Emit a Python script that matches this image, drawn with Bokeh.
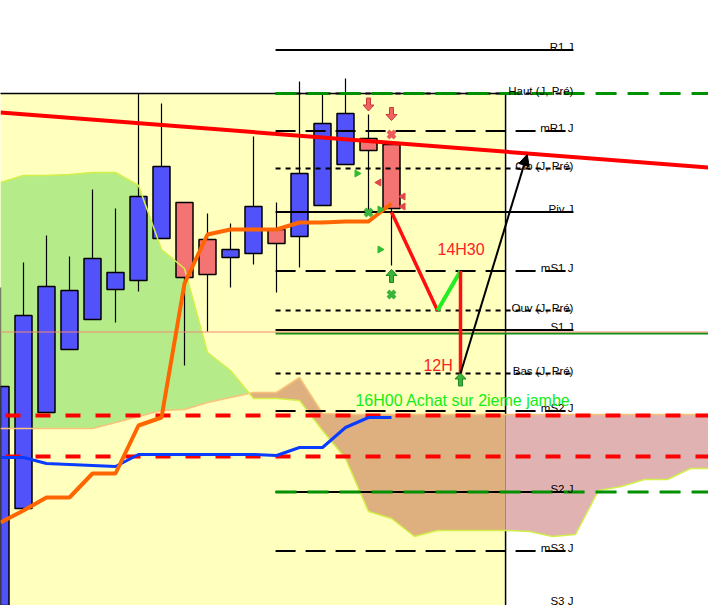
import numpy as np
from bokeh.plotting import figure
from bokeh.models import Range1d, ColumnDataSource, Arrow, NormalHead
from bokeh.embed import file_html
from bokeh.resources import INLINE
from bokeh.core.properties import value

# ---------------- data (price points, bar index = 30 min bars) ----------------
bars = list(range(18))
opens = [4176.5, 4242.5, 4290.5, 4322.0, 4337.0, 4352.0, 4356.5, 4377.5, 4395.5,
         4377.0, 4368.0, 4370.0, 4382.0, 4378.5, 4394.0, 4414.5, 4427.5, 4424.5]
highs = [4353.0, 4365.5, 4379.0, 4368.5, 4402.0, 4392.5, 4450.0, 4445.0, 4395.5,
         4390.0, 4385.0, 4428.5, 4395.5, 4456.0, 4450.0, 4457.5, 4439.5, 4424.5]
lows = [4171.5, 4242.5, 4290.5, 4322.0, 4337.0, 4335.5, 4351.0, 4377.5, 4314.0,
        4331.0, 4353.0, 4364.5, 4350.5, 4363.0, 4394.0, 4414.5, 4391.5, 4364.0]
closes = [4303.5, 4339.0, 4353.5, 4351.5, 4367.5, 4360.5, 4398.5, 4413.5, 4358.0,
          4359.5, 4372.0, 4393.5, 4375.0, 4410.0, 4435.0, 4440.0, 4421.5, 4392.5]

kijun = [4235.5, 4241.5, 4248.0, 4248.0, 4260.0, 4260.0, 4284.0, 4288.0, 4355.0,
         4379.5, 4382.0, 4382.0, 4382.0, 4385.5, 4385.5, 4386.0, 4386.0, 4395.0]
tenkan = [4268.0, 4268.0, 4265.0, 4264.5, 4264.0, 4263.5, 4269.5, 4269.5, 4269.5,
          4269.5, 4269.5, 4269.5, 4269.0, 4273.0, 4273.0, 4283.0, 4288.0, 4288.0]

cloud_bars = list(range(32))
span_a = [4405.5, 4409.0, 4409.0, 4409.5, 4410.5, 4410.5, 4404.0, 4372.0, 4362.5,
          4320.5, 4311.5, 4297.5, 4297.5, 4296.5, 4281.5, 4267.5, 4241.0, 4237.5,
          4228.5, 4231.5, 4231.5, 4231.5, 4231.5, 4231.0, 4228.5, 4229.5, 4251.5,
          4253.5, 4257.0, 4257.0, 4262.5, 4262.5]
span_b = [4282.5, 4282.5, 4282.5, 4282.5, 4282.5, 4285.5, 4288.5, 4291.5, 4292.0,
          4295.5, 4298.0, 4300.5, 4300.5, 4308.0, 4290.0, 4289.5, 4289.5, 4289.5,
          4289.5, 4289.5, 4289.5, 4289.5, 4289.5, 4289.5, 4289.5, 4289.5, 4289.5,
          4289.5, 4289.5, 4289.5, 4289.5, 4289.5]

level_names = ["R1 J", "Haut (J, Pré)", "mR1 J", "Clo (J, Pré)", "Piv J", "mS1 J",
               "Ouv (J, Pré)", "S1 J", "Bas (J, Pré)", "mS2 J", "S2 J", "mS3 J", "S3 J"]
level_values = [4471.7, 4450.0, 4431.25, 4412.5, 4390.8, 4361.25,
                4341.5, 4331.7, 4310.0, 4291.25, 4250.8, 4221.25, 4191.7]
level_kinds = ["solid", "short", "long", "short", "solid", "long",
               "short", "solid", "short", "long", "solid", "long", "solid"]

green_dashed_levels = [4450.0, 4250.8]
red_dashed_levels = [4289.0, 4268.5]
thin_level = [4330.75]
green_solid_level = [4330.0]

trend_bars = [0, 31]
trend_prices = [4440.5, 4412.8]

sell_arrow_bars = [16, 17]
sell_arrow_prices = [4444.5, 4439.75]
buy_arrow_bars = [17, 20]
buy_arrow_prices = [4358.75, 4307.0]
sell_x_bars = [17]
sell_x_prices = [4429.5]
buy_x_bars = [16, 17]
buy_x_prices = [4390.5, 4349.5]
up_tri_bars = [15.5, 16.5, 16.5]
up_tri_prices = [4410.0, 4392.0, 4372.0]
dn_tri_bars = [16.45, 17.5, 17.5]
dn_tri_prices = [4405.5, 4398.5, 4393.5]

drop_leg_bars = [17, 19]
drop_leg_prices = [4390.8, 4341.5]
rebound_leg_bars = [19, 20]
rebound_leg_prices = [4341.5, 4361.25]
fall_leg_bars = [20, 20]
fall_leg_prices = [4361.25, 4310.0]
target_bars = [20, 22.9]
target_prices = [4310.0, 4419.5]

notes = ["14H30", "12H", "16H00 Achat sur 2ieme jambe"]
note_bars = [19.0, 18.39, 15.43]
note_prices = [4372.0, 4314.0, 4296.5]
note_colors = ["#ff2222", "#ff2222", "#11ee11"]

session_start, session_end, session_top, session_bottom = -1.0, 21.96, 4450.0, 4100.0
levels_start, levels_end, ext_end = 11.96, 24.91, 31.0

# ---------------- figure ----------------
PX_X = 1.0 / 23.0   # bar units per pixel
PX_Y = 0.5          # price units per pixel
W, H = 708, 605
y_hi = 4496.5
y_lo = y_hi - H * PX_Y

p = figure(width=W, height=H, output_backend="svg", toolbar_location=None,
           x_range=Range1d(0.0, W * PX_X), y_range=Range1d(y_lo, y_hi),
           x_axis_type=None, y_axis_type=None, min_border=0)
p.grid.visible = False
p.outline_line_color = None
p.background_fill_color = "white"
p.border_fill_color = "white"

# session background
p.quad(left=[session_start], right=[session_end], top=[session_top], bottom=[session_bottom],
       fill_color="#ffffbe", line_color="black", line_width=1.5)

# cloud
cx = np.array(cloud_bars, dtype=float)
a = np.array(span_a)
b = np.array(span_b)
extra = [session_end]
d = a - b
for k in range(1, len(cx)):
    if d[k - 1] * d[k] < 0:
        t = d[k - 1] / (d[k - 1] - d[k])
        extra.append(cx[k - 1] + t)
X = np.unique(np.concatenate([cx, np.array(extra)]))
A = np.interp(X, cx, a)
B = np.interp(X, cx, b)
p.varea(x=X, y1=B, y2=np.where(A > B, A, B), fill_color="#b5ec89")
bear_top = np.where(B > A, B, A)
m_in = X <= session_end + 1e-9
m_out = X >= session_end - 1e-9
p.varea(x=X[m_in], y1=A[m_in], y2=bear_top[m_in], fill_color="#deb07f")
p.varea(x=X[m_out], y1=A[m_out], y2=bear_top[m_out], fill_color="#e0b2b2")

# candles
o = np.array(opens); c = np.array(closes)
up = c >= o
src = ColumnDataSource(dict(x=bars, o=opens, h=highs, l=lows, c=closes,
                            top=np.maximum(o, c), bot=np.minimum(o, c),
                            col=np.where(up, "#5252fa", "#f47474")))
p.segment(x0="x", y0="l", x1="x", y1="h", source=src, line_color="black", line_width=1.2)
p.vbar(x="x", width=17 * PX_X, top="top", bottom="bot", source=src,
       fill_color="col", line_color="black", line_width=1.5)

# cloud edges
p.line(cloud_bars, span_b, line_color="#f8c27a", line_width=1.5)
p.line(cloud_bars, span_a, line_color="#d2f04a", line_width=1.5)

# level lines
dash_of = {"solid": "solid", "short": "5 5", "long": "20 10"}
for kind in ["solid", "short", "long"]:
    vals = [v for v, k in zip(level_values, level_kinds) if k == kind]
    p.segment(x0=[levels_start] * len(vals), y0=vals, x1=[levels_end] * len(vals), y1=vals,
              line_color="black", line_width=2, line_dash=dash_of[kind])

p.segment(x0=[0.0] * len(red_dashed_levels), y0=red_dashed_levels,
          x1=[ext_end] * len(red_dashed_levels), y1=red_dashed_levels,
          line_color="#ff0000", line_width=4, line_dash="15 15", line_dash_offset=25)
p.segment(x0=[levels_start] * len(green_dashed_levels), y0=green_dashed_levels,
          x1=[ext_end] * len(green_dashed_levels), y1=green_dashed_levels,
          line_color="#009000", line_width=3, line_dash="21 11")
p.segment(x0=[levels_start], y0=green_solid_level, x1=[ext_end], y1=green_solid_level,
          line_color="#119011", line_width=2)
p.segment(x0=[0.0], y0=thin_level, x1=[ext_end], y1=thin_level,
          line_color="#f08a70", line_width=1)

# level labels (kept inside the frame at the bottom edge)
label_y = np.maximum(np.array(level_values), y_lo + 1.0)
p.text(x=[levels_end] * len(level_names), y=label_y, text=level_names,
       text_align="right", text_baseline="alphabetic", y_offset=-3,
       text_font=value("Liberation Sans"), text_font_size="11.5px", text_color="black")

# indicator lines
p.line(bars, tenkan, line_color="#0a3cff", line_width=3)
p.line(bars, kijun, line_color="#ff6600", line_width=4)

# signal markers
def block_arrows(bx, py, pointing_up):
    pts = [(-2.0, -6.5), (2.0, -6.5), (2.0, 0.5), (5.5, 0.5), (0.0, 6.5), (-5.5, 0.5), (-2.0, 0.5)]
    s = -1.0 if pointing_up else 1.0
    xs, ys = [], []
    for x0, y0 in zip(bx, py):
        xs.append([x0 + dx * PX_X for dx, dy in pts])
        ys.append([y0 - s * dy * PX_Y for dx, dy in pts])
    return xs, ys

sx, sy = block_arrows(sell_arrow_bars, sell_arrow_prices, False)
p.patches(sx, sy, fill_color="#f06262", line_color="#c83a3a", line_width=1)
bx_, by_ = block_arrows(buy_arrow_bars, buy_arrow_prices, True)
p.patches(bx_, by_, fill_color="#3cb43c", line_color="#1f861f", line_width=1)

p.scatter(sell_x_bars, sell_x_prices, marker="x", size=10, line_color="#ee5a5a", line_width=4)
p.scatter(buy_x_bars, buy_x_prices, marker="x", size=10, line_color="#3cb43c", line_width=4)
p.scatter(up_tri_bars, up_tri_prices, marker="triangle", size=7, angle=-np.pi / 2,
          fill_color="#33bb33", line_color="#33bb33")
p.scatter(dn_tri_bars, dn_tri_prices, marker="triangle", size=7, angle=np.pi / 2,
          fill_color="#e04848", line_color="#e04848")

# scenario drawing
p.line(drop_leg_bars, drop_leg_prices, line_color="#ff1010", line_width=3.5)
p.line(rebound_leg_bars, rebound_leg_prices, line_color="#22ee22", line_width=4)
p.line(fall_leg_bars, fall_leg_prices, line_color="#ff1010", line_width=3.5)
tsrc = ColumnDataSource(dict(x0=[target_bars[0]], y0=[target_prices[0]],
                             x1=[target_bars[1]], y1=[target_prices[1]]))
p.add_layout(Arrow(end=NormalHead(size=11, fill_color="black", line_color="black"),
                   x_start="x0", y_start="y0", x_end="x1", y_end="y1", source=tsrc,
                   line_color="black", line_width=2))

# trend line
p.line(trend_bars, trend_prices, line_color="#ff0000", line_width=4)

# notes
p.text(x=note_bars, y=note_prices, text=notes, text_color=note_colors,
       text_align="left", text_baseline="alphabetic",
       text_font=value("Liberation Sans"), text_font_size="16px")

open("out.html", "w").write(file_html(p, INLINE))
